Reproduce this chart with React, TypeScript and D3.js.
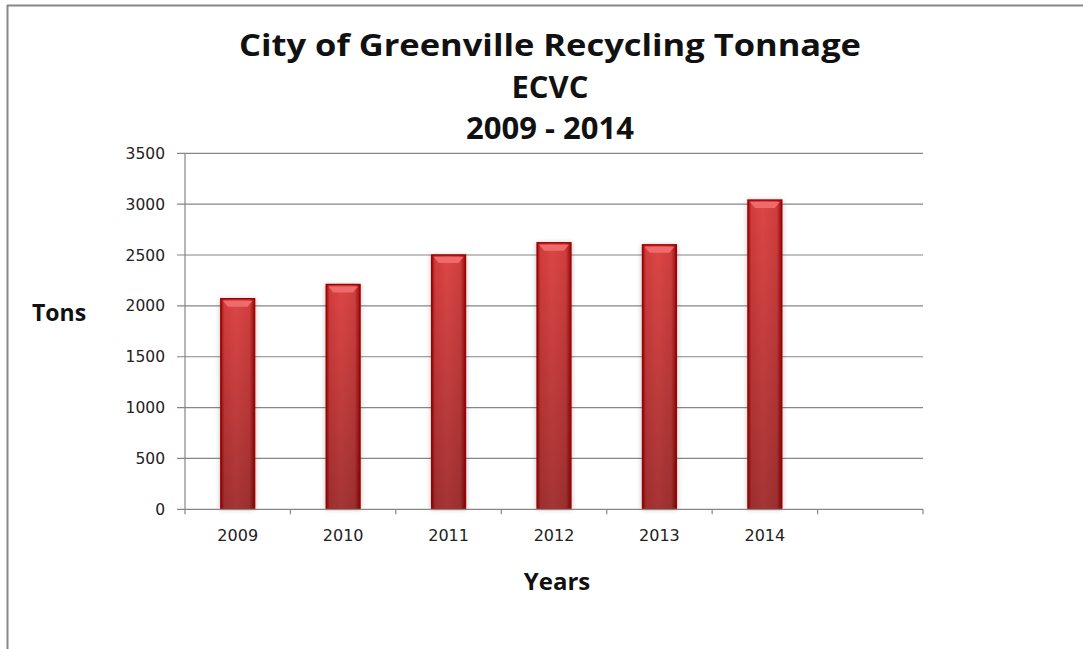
import { useRef, useEffect } from 'react';
import * as d3 from 'd3';

const years = ['2009', '2010', '2011', '2012', '2013', '2014', ''];
const tons = [2070, 2210, 2500, 2620, 2600, 3040];
const yTicks = [0, 500, 1000, 1500, 2000, 2500, 3000, 3500];
const titleLines = ['City of Greenville Recycling Tonnage', 'ECVC', '2009 - 2014'];

const W = 1083;
const H = 649;
const PLOT = { left: 185, right: 923, top: 153.3, bottom: 509.3 };

export default function App() {
  const svgRef = useRef<SVGSVGElement>(null);

  useEffect(() => {
    const svg = d3.select(svgRef.current);
    svg.selectAll('*').remove();

    const x = d3.scaleBand<string>().domain(years).range([PLOT.left, PLOT.right]).padding(0);
    const y = d3.scaleLinear().domain([0, 3500]).range([PLOT.bottom, PLOT.top]);

    const defs = svg.append('defs');
    const hg = defs.append('linearGradient').attr('id', 'barH').attr('x1', 0).attr('x2', 1).attr('y1', 0).attr('y2', 0);
    [
      ['0%', '#9e0e0e'],
      ['10%', '#d23c3c'],
      ['45%', '#dc4646'],
      ['85%', '#cf3e3e'],
      ['100%', '#9a0c0c'],
    ].forEach(([o, c]) => hg.append('stop').attr('offset', o).attr('stop-color', c));
    const vg = defs.append('linearGradient').attr('id', 'barV').attr('x1', 0).attr('x2', 0).attr('y1', 0).attr('y2', 1);
    vg.append('stop').attr('offset', '0%').attr('stop-color', '#000').attr('stop-opacity', 0);
    vg.append('stop').attr('offset', '100%').attr('stop-color', '#000').attr('stop-opacity', 0.25);
    const blur = defs.append('filter').attr('id', 'shadow').attr('x', '-50%').attr('y', '-50%').attr('width', '200%').attr('height', '200%');
    blur.append('feGaussianBlur').attr('stdDeviation', 2.5);

    // outer frame
    svg.append('line').attr('x1', 7).attr('x2', W).attr('y1', 5.5).attr('y2', 5.5).attr('stroke', '#878787').attr('stroke-width', 2);
    svg.append('line').attr('x1', 7.5).attr('x2', 7.5).attr('y1', 5).attr('y2', H).attr('stroke', '#878787').attr('stroke-width', 2);

    // gridlines + y labels
    yTicks.forEach((t) => {
      if (t > 0) {
        svg
          .append('line')
          .attr('x1', PLOT.left - 8)
          .attr('x2', PLOT.right)
          .attr('y1', y(t))
          .attr('y2', y(t))
          .attr('stroke', '#868686')
          .attr('stroke-width', 1.2);
      }
      svg
        .append('text')
        .attr('x', 165)
        .attr('y', y(t))
        .attr('dy', '0.36em')
        .attr('text-anchor', 'end')
        .attr('font-family', 'DejaVu Sans')
        .attr('font-size', 15.5)
        .attr('fill', '#222')
        .text(t);
    });

    // bars
    const bw = x.bandwidth() * 0.32;
    const g = svg.append('g');
    tons.forEach((v, i) => {
      const cx = (x(years[i]) ?? 0) + x.bandwidth() / 2;
      const x0 = cx - bw / 2;
      const y0 = y(v);
      const h = y(0) - y0;
      g.append('rect').attr('x', x0 - 1).attr('y', y0).attr('width', bw + 2).attr('height', h)
        .attr('fill', '#555').attr('opacity', 0.35).attr('filter', 'url(#shadow)');
      g.append('rect').attr('x', x0).attr('y', y0).attr('width', bw).attr('height', h).attr('fill', 'url(#barH)');
      g.append('rect').attr('x', x0).attr('y', y0).attr('width', bw).attr('height', h).attr('fill', 'url(#barV)');
      g.append('polygon')
        .attr('points', `${x0 + 2},${y0 + 2} ${x0 + bw - 2},${y0 + 2} ${x0 + bw - 7},${y0 + 8} ${x0 + 7},${y0 + 8}`)
        .attr('fill', '#ef6a6a');
      g.append('rect').attr('x', x0).attr('y', y0).attr('width', bw).attr('height', h)
        .attr('fill', 'none').attr('stroke', '#a20000').attr('stroke-width', 1.5);
    });

    // axes
    svg.append('line').attr('x1', PLOT.left).attr('x2', PLOT.left).attr('y1', PLOT.top).attr('y2', PLOT.bottom + 5)
      .attr('stroke', '#868686').attr('stroke-width', 1.2);
    svg.append('line').attr('x1', PLOT.left - 8).attr('x2', PLOT.right).attr('y1', PLOT.bottom).attr('y2', PLOT.bottom)
      .attr('stroke', '#868686').attr('stroke-width', 1.2);
    years.forEach((yr) => {
      const bx = (x(yr) ?? 0) + x.bandwidth();
      svg.append('line').attr('x1', bx).attr('x2', bx).attr('y1', PLOT.bottom).attr('y2', PLOT.bottom + 5)
        .attr('stroke', '#868686').attr('stroke-width', 1.2);
      if (yr) {
        svg.append('text')
          .attr('x', (x(yr) ?? 0) + x.bandwidth() / 2)
          .attr('y', 541)
          .attr('text-anchor', 'middle')
          .attr('font-family', 'DejaVu Sans')
          .attr('font-size', 16)
          .attr('fill', '#222')
          .text(yr);
      }
    });

    // titles
    const ty = [56, 98, 139];
    titleLines.forEach((t, i) => {
      const tx = svg.append('text')
        .attr('x', 550)
        .attr('y', ty[i])
        .attr('text-anchor', 'middle')
        .attr('font-family', 'Open Sans')
        .attr('font-weight', 700)
        .attr('font-size', 31)
        .attr('fill', '#111')
        .text(t);
      if (i === 0) tx.attr('textLength', 622).attr('lengthAdjust', 'spacingAndGlyphs');
    });

    svg.append('text').attr('x', 32).attr('y', 321).attr('font-family', 'Open Sans').attr('font-weight', 700)
      .attr('font-size', 23).attr('fill', '#111').text('Tons');
    svg.append('text').attr('x', 557).attr('y', 590).attr('text-anchor', 'middle').attr('font-family', 'Open Sans')
      .attr('font-weight', 700).attr('font-size', 24).attr('fill', '#111').text('Years');
  }, []);

  return (
    <svg
      ref={svgRef}
      width={W}
      height={H}
      style={{ position: 'absolute', left: 0, top: 0, background: '#fff' }}
    />
  );
}
